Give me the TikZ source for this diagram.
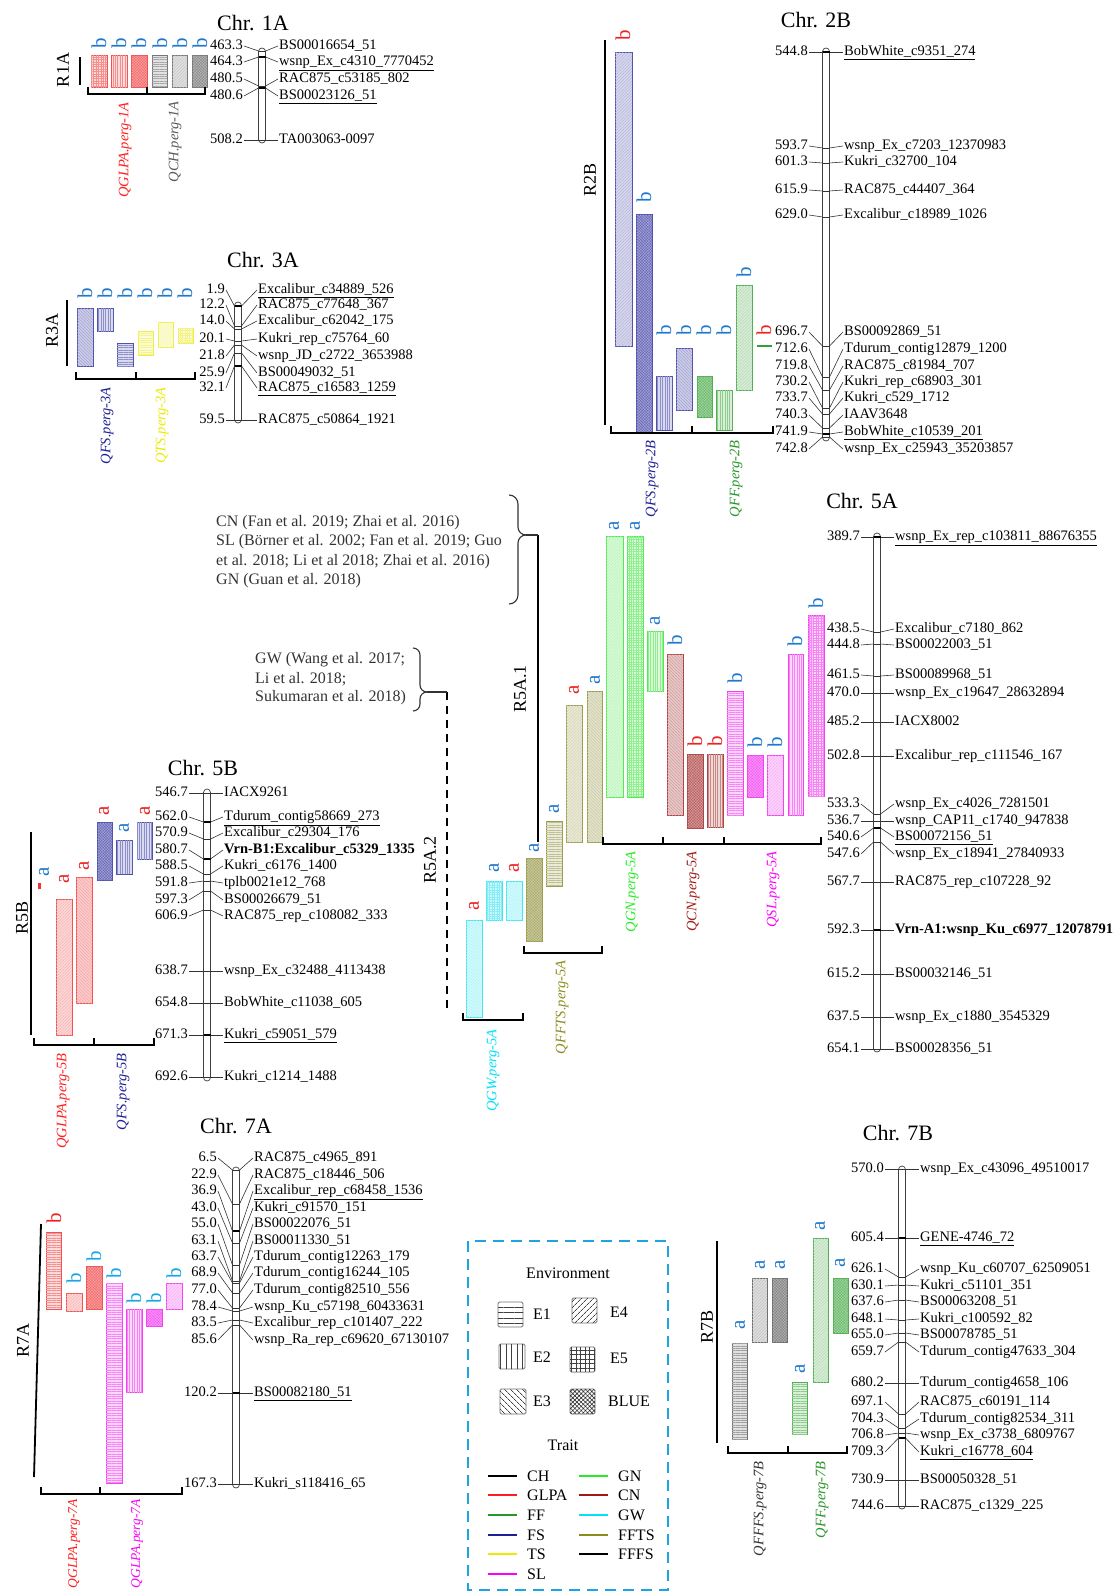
\documentclass[tikz,border=0pt]{standalone}
\usepackage{fontspec}
\setmainfont{Liberation Serif}
\usetikzlibrary{patterns.meta}
\definecolor{cGL}{RGB}{240,50,50}
\definecolor{cCH}{RGB}{95,95,95}
\definecolor{cFS}{RGB}{50,50,160}
\definecolor{cTS}{RGB}{235,235,40}
\definecolor{cFF}{RGB}{50,160,50}
\definecolor{cGN}{RGB}{50,230,50}
\definecolor{cCN}{RGB}{160,35,35}
\definecolor{cSL}{RGB}{240,30,240}
\definecolor{cGW}{RGB}{30,225,240}
\definecolor{cFT}{RGB}{140,140,50}
\definecolor{cFB}{RGB}{85,85,85}
\definecolor{lR}{RGB}{235,35,35}
\definecolor{lB}{RGB}{30,120,205}
\definecolor{lC}{RGB}{25,165,230}
\definecolor{legbox}{RGB}{30,165,225}
\definecolor{tGL}{RGB}{255,30,30}
\definecolor{tFS}{RGB}{30,30,150}
\definecolor{tTS}{RGB}{235,235,0}
\definecolor{tFF}{RGB}{40,150,40}
\definecolor{tGN}{RGB}{40,235,40}
\definecolor{tCN}{RGB}{160,25,25}
\definecolor{tSL}{RGB}{250,0,250}
\definecolor{tGW}{RGB}{0,225,250}
\definecolor{tFT}{RGB}{140,140,30}
\tikzset{
 num/.style={anchor=east, inner sep=1pt, text height=10pt, text depth=3pt, font=\fontsize{14.5}{16}\selectfont},
 mname/.style={anchor=west, inner sep=1pt, text height=10pt, text depth=3pt, font=\fontsize{14.5}{16}\selectfont},
 chrom/.style={draw=black!75, line width=0.7pt, fill=white, rounded corners=3.5pt},
 lead/.style={draw=black!80, line width=0.6pt},
 lthick/.style={draw=black, line width=1.6pt},
 ctitle/.style={font=\fontsize{22}{24}\selectfont},
 rlab/.style={rotate=90, font=\fontsize{18}{20}\selectfont},
 rline/.style={line width=1.8pt},
 brk/.style={line width=1.5pt},
 qlab/.style={rotate=90, anchor=east, inner sep=1pt, font=\fontsize{14.5}{16}\selectfont\itshape},
 blet/.style={rotate=90, inner sep=0pt, font=\fontsize{21}{22}\selectfont},
 qbar/.style={draw=#1!85, line width=0.7pt},
 eA/.style={fill=#1!18, postaction={pattern={Lines[angle=0,distance=2.4pt,line width=0.4pt]}, pattern color=#1!55}},
 eB/.style={fill=#1!18, postaction={pattern={Lines[angle=90,distance=2.4pt,line width=0.4pt]}, pattern color=#1!55}},
 eC/.style={fill=#1!25, postaction={pattern={Lines[angle=-45,distance=2.2pt,line width=0.35pt]}, pattern color=#1!50}},
 eD/.style={fill=#1!20, postaction={pattern={Lines[angle=45,distance=2.2pt,line width=0.35pt]}, pattern color=#1!40}},
 eE/.style={fill=#1!18, postaction={pattern={Hatch[angle=0,distance=2.4pt,line width=0.35pt]}, pattern color=#1!55}},
 eX/.style={fill=#1!45, postaction={pattern={Hatch[angle=45,distance=2pt,line width=0.35pt]}, pattern color=#1!75}},
 btxt/.style={anchor=west, inner sep=0pt, text=black!80, font=\fontsize{16}{18}\selectfont},
 brace/.style={draw=black!80, line width=1.1pt},
 sw/.style={draw=black!55, line width=0.8pt, rounded corners=1.5pt, fill=white},
 leg/.style={anchor=west, inner sep=0pt, font=\fontsize{16}{18}\selectfont},
 legline/.style={line width=2pt},
}
\newcommand\mkr[6]{%
 \node[num] (#1n) at (\XN,#2) {#4};
 \node[mname] (#1m) at (\XM,#2) {#5};
 \draw[lead] (#1n.east) -- (\CX-\HW,#3);
 \draw[#6] (\CX-\HW,#3) -- (\CX+\HW,#3);
 \draw[lead] (\CX+\HW,#3) -- (#1m.west);
}
\newcommand\bracketline[3]{\draw[brk] (#1,#3-7) -- (#1,#3) -- (#2,#3) -- (#2,#3-7);}
\newcommand\midtick[2]{\draw[brk] (#1,#2) -- (#1,#2-7);}
\begin{document}
\begin{tikzpicture}[x=1pt,y=-1pt]
\useasboundingbox[fill=white] (0,0) rectangle (1113,1593);

%%%%%%%%%%%%%%%% Chr 1A
\node[ctitle] (t1A) at (253,23) {Chr. 1A};
\def\CX{262}\def\HW{3.5}\def\XN{244}\def\XM{278}
\draw[chrom] (\CX-\HW,48) rectangle (\CX+\HW,143);
\mkr{a1}{46}{51}{463.3}{BS00016654\_51}{lead}
\mkr{a2}{62}{57}{464.3}{\underline{wsnp\_Ex\_c4310\_7770452}}{lthick}
\mkr{a3}{79}{86}{480.5}{RAC875\_c53185\_802}{lead}
\mkr{a4}{96}{88}{480.6}{\underline{BS00023126\_51}}{lthick}
\mkr{a5}{140}{140}{508.2}{TA003063-0097}{lead}
\draw[qbar=cGL, eE=cGL] (91,55) rectangle (107,87);
\draw[qbar=cGL, eB=cGL] (111,55) rectangle (127,87);
\draw[qbar=cGL, eX=cGL] (131,55) rectangle (147,87);
\draw[qbar=cCH, eA=cCH] (152,55) rectangle (167,87);
\draw[qbar=cCH, eD=cCH] (172,55) rectangle (187,87);
\draw[qbar=cCH, eX=cCH] (192,55) rectangle (207,87);
\foreach \x in {99,119,139,160,180,200} \node[blet, text=lB] at (\x,43) {b};
\node[rlab] (r1A) at (63,70) {R1A};
\draw[rline] (80,57) -- (80,85);
\bracketline{88}{205}{94}\midtick{147}{94}
\node[qlab, text=tGL] (q1a) at (125,101) {QGLPA.perg-1A};
\node[qlab, text=black!65] (q1b) at (175,100) {QCH.perg-1A};

%%%%%%%%%%%%%%%% Chr 3A
\node[ctitle] (t3A) at (263,260) {Chr. 3A};
\def\CX{238}\def\HW{3.5}\def\XN{226}\def\XM{257}
\draw[chrom] (\CX-\HW,302) rectangle (\CX+\HW,423);
\mkr{b1}{290}{306}{1.9}{\underline{Excalibur\_c34889\_526}}{lthick}
\mkr{b2}{305}{326}{12.2}{RAC875\_c77648\_367}{lead}
\mkr{b3}{321}{329}{14.0}{Excalibur\_c62042\_175}{lead}
\mkr{b4}{339}{341}{20.1}{Kukri\_rep\_c75764\_60}{lead}
\mkr{b5}{356}{345}{21.8}{wsnp\_JD\_c2722\_3653988}{lead}
\mkr{b6}{373}{353}{25.9}{BS00049032\_51}{lead}
\mkr{b7}{388}{366}{32.1}{\underline{RAC875\_c16583\_1259}}{lthick}
\mkr{b8}{420}{420}{59.5}{RAC875\_c50864\_1921}{lead}
\draw[qbar=cFS, eC=cFS] (77,308) rectangle (93,366);
\draw[qbar=cFS, eB=cFS] (97,308) rectangle (113,331);
\draw[qbar=cFS, eA=cFS] (117,343) rectangle (133,366);
\draw[qbar=cTS, eA=cTS] (138,331) rectangle (153,355);
\draw[qbar=cTS, eD=cTS] (158,322) rectangle (173,347);
\draw[qbar=cTS, eE=cTS] (178,328) rectangle (193,343);
\foreach \x in {85,105,125,145,165,185} \node[blet, text=lB] at (\x,293) {b};
\node[rlab] (r3A) at (52,330) {R3A};
\draw[rline] (67,300) -- (67,366);
\bracketline{76}{195}{379}\midtick{136}{379}
\node[qlab, text=tFS] (q3a) at (107,386) {QFS.perg-3A};
\node[qlab, text=tTS] (q3b) at (162,386) {QTS.perg-3A};

%%%%%%%%%%%%%%%% Chr 2B
\node[ctitle] (t2B) at (816,20) {Chr. 2B};
\def\CX{826}\def\HW{3.5}\def\XN{809}\def\XM{843}
\draw[chrom] (\CX-\HW,48) rectangle (\CX+\HW,441);
\mkr{c1}{52}{52}{544.8}{\underline{BobWhite\_c9351\_274}}{lthick}
\mkr{c2}{146}{148}{593.7}{wsnp\_Ex\_c7203\_12370983}{lead}
\mkr{c3}{162}{163}{601.3}{Kukri\_c32700\_104}{lead}
\mkr{c4}{190}{191}{615.9}{RAC875\_c44407\_364}{lead}
\mkr{c5}{215}{217}{629.0}{Excalibur\_c18989\_1026}{lead}
\mkr{c6}{332}{346}{696.7}{BS00092869\_51}{lead}
\mkr{c7}{349}{377}{712.6}{Tdurum\_contig12879\_1200}{lead}
\mkr{c8}{366}{390}{719.8}{RAC875\_c81984\_707}{lead}
\mkr{c9}{382}{408}{730.2}{Kukri\_rep\_c68903\_301}{lead}
\mkr{c10}{398}{414}{733.7}{Kukri\_c529\_1712}{lead}
\mkr{c11}{415}{428}{740.3}{IAAV3648}{lead}
\mkr{c12}{432}{434}{741.9}{\underline{BobWhite\_c10539\_201}}{lthick}
\mkr{c13}{449}{437}{742.8}{wsnp\_Ex\_c25943\_35203857}{lead}
\draw[qbar=cFS, eD=cFS] (615,52) rectangle (632,346);
\draw[qbar=cFS, eX=cFS] (636,214) rectangle (652,433);
\draw[qbar=cFS, eB=cFS] (656,376) rectangle (672,430);
\draw[qbar=cFS, eC=cFS] (676,348) rectangle (692,410);
\draw[qbar=cFF, eX=cFF] (697,376) rectangle (712,417);
\draw[qbar=cFF, eB=cFF] (716,390) rectangle (732,430);
\draw[qbar=cFF, eD=cFF] (736,285) rectangle (752,390);
\draw[cFF, line width=2pt] (757,346) -- (772,346);
\node[blet, text=lR] at (623,35) {b};
\node[blet, text=lB] at (644,197) {b};
\foreach \x in {664,684,704,724} \node[blet, text=lB] at (\x,330) {b};
\node[blet, text=lB] at (744,272) {b};
\node[blet, text=lR] at (764,330) {b};
\node[rlab] (r2B) at (590,180) {R2B};
\draw[rline] (605,40) -- (605,425);
\bracketline{611}{773}{433}\midtick{692}{433}
\node[qlab, text=tFS] (q2a) at (652,439) {QFS.perg-2B};
\node[qlab, text=tFF] (q2b) at (736,439) {QFF.perg-2B};

%%%%%%%%%%%%%%%% Chr 5A
\node[ctitle] (t5A) at (862,501) {Chr. 5A};
\def\CX{877}\def\HW{3.5}\def\XN{861}\def\XM{894}
\draw[chrom] (\CX-\HW,533) rectangle (\CX+\HW,1052);
\mkr{f1}{537}{537}{389.7}{\underline{wsnp\_Ex\_rep\_c103811\_88676355}}{lthick}
\mkr{f2}{629}{632}{438.5}{Excalibur\_c7180\_862}{lead}
\mkr{f3}{645}{644}{444.8}{BS00022003\_51}{lead}
\mkr{f4}{675}{676}{461.5}{BS00089968\_51}{lead}
\mkr{f5}{693}{693}{470.0}{wsnp\_Ex\_c19647\_28632894}{lead}
\mkr{f6}{722}{722}{485.2}{IACX8002}{lead}
\mkr{f7}{756}{756}{502.8}{Excalibur\_rep\_c111546\_167}{lead}
\mkr{f8}{804}{814}{533.3}{wsnp\_Ex\_c4026\_7281501}{lead}
\mkr{f9}{821}{821}{536.7}{wsnp\_CAP11\_c1740\_947838}{lead}
\mkr{f10}{837}{828}{540.6}{\underline{BS00072156\_51}}{lthick}
\mkr{f11}{854}{842}{547.6}{wsnp\_Ex\_c18941\_27840933}{lead}
\mkr{f12}{882}{882}{567.7}{RAC875\_rep\_c107228\_92}{lead}
\mkr{f13}{930}{930}{592.3}{\textbf{Vrn-A1:wsnp\_Ku\_c6977\_12078791}}{lthick}
\mkr{f14}{974}{974}{615.2}{BS00032146\_51}{lead}
\mkr{f15}{1017}{1017}{637.5}{wsnp\_Ex\_c1880\_3545329}{lead}
\mkr{f16}{1049}{1049}{654.1}{BS00028356\_51}{lead}
% GW
\draw[qbar=cGW, eD=cGW] (466,920) rectangle (482,1017);
\draw[qbar=cGW, eE=cGW] (486,881) rectangle (502,920);
\draw[qbar=cGW, eD=cGW] (506,881) rectangle (522,920);
% FFTS
\draw[qbar=cFT, eX=cFT] (526,858) rectangle (542,941);
\draw[qbar=cFT, eA=cFT] (546,821) rectangle (562,886);
\draw[qbar=cFT, eD=cFT] (566,705) rectangle (582,842);
\draw[qbar=cFT, eC=cFT] (587,691) rectangle (602,842);
% GN
\draw[qbar=cGN, eD=cGN] (606,536) rectangle (623,797);
\draw[qbar=cGN, eE=cGN] (627,536) rectangle (643,797);
\draw[qbar=cGN, eB=cGN] (647,631) rectangle (663,691);
% CN
\draw[qbar=cCN, eC=cCN] (667,654) rectangle (683,815);
\draw[qbar=cCN, eX=cCN] (687,754) rectangle (703,828);
\draw[qbar=cCN, eB=cCN] (707,754) rectangle (723,827);
% SL
\draw[qbar=cSL, eA=cSL] (727,691) rectangle (743,815);
\draw[qbar=cSL, eX=cSL] (747,755) rectangle (763,797);
\draw[qbar=cSL, eD=cSL] (767,755) rectangle (783,815);
\draw[qbar=cSL, eB=cSL] (788,654) rectangle (803,815);
\draw[qbar=cSL, eE=cSL] (808,615) rectangle (824,796);
\node[blet, text=lR] at (474,906) {a};
\node[blet, text=lB] at (494,868) {a};
\node[blet, text=lR] at (514,868) {a};
\node[blet, text=lB] at (534,848) {a};
\node[blet, text=lB] at (554,809) {a};
\node[blet, text=lR] at (574,690) {a};
\node[blet, text=lB] at (595,680) {a};
\node[blet, text=lB] at (614,526) {a};
\node[blet, text=lB] at (635,526) {a};
\node[blet, text=lB] at (655,621) {a};
\node[blet, text=lB] at (675,640) {b};
\node[blet, text=lR] at (695,741) {b};
\node[blet, text=lR] at (715,741) {b};
\node[blet, text=lB] at (735,678) {b};
\node[blet, text=lB] at (755,742) {b};
\node[blet, text=lB] at (775,742) {b};
\node[blet, text=lB] at (795,641) {b};
\node[blet, text=lB] at (816,603) {b};
\bracketline{603}{821}{844}\midtick{663}{844}\midtick{724}{844}
\bracketline{524}{602}{953}
\bracketline{463}{523}{1020}
\node[qlab, text=tGW] (q5a) at (493,1028) {QGW.perg-5A};
\node[qlab, text=tFT] (q5b) at (562,959) {QFFTS.perg-5A};
\node[qlab, text=tGN] (q5c) at (632,850) {QGN.perg-5A};
\node[qlab, text=tCN] (q5d) at (693,850) {QCN.perg-5A};
\node[qlab, text=tSL] (q5e) at (773,850) {QSL.perg-5A};
\node[rlab] (r5a1) at (520,689) {R5A.1};
\coordinate (r51top) at (538,535);
\coordinate (r51bot) at (538,842);
\draw[rline] (r51top) -- (r51bot);
\node[rlab] (r5a2) at (430,860) {R5A.2};
\coordinate (r52top) at (447,692);
\coordinate (r52bot) at (447,1009);
\draw[rline, dash pattern=on 8pt off 6pt] (r52top) -- (r52bot);
% braces and citations
\draw[brace] (509,495) to[out=0,in=90] (518,504) -- (518,527) to[out=-90,in=180] (526,535);
\draw[brace] (509,604) to[out=0,in=-90] (518,595) -- (518,543) to[out=90,in=180] (526,535);
\draw[brace] (526,535) -- (r51top);
\draw[brace] (413,648) to[out=0,in=90] (420,655) -- (420,685) to[out=-90,in=180] (427,692);
\draw[brace] (413,711) to[out=0,in=-90] (420,704) -- (420,699) to[out=90,in=180] (427,692);
\draw[brace] (427,692) -- (r52top);
\node[btxt] (c1) at (216,523) {CN (Fan et al. 2019; Zhai et al. 2016)};
\node[btxt] (c2) at (216,542) {SL (Börner et al. 2002; Fan et al. 2019; Guo};
\node[btxt] (c3) at (216,562) {et al. 2018; Li et al 2018; Zhai et al. 2016)};
\node[btxt] (c4) at (216,581) {GN (Guan et al. 2018)};
\node[btxt] (g1) at (255,660) {GW (Wang et al. 2017;};
\node[btxt] (g2) at (255,679) {Li et al. 2018;};
\node[btxt] (g3) at (255,698) {Sukumaran et al. 2018)};

%%%%%%%%%%%%%%%% Chr 5B
\node[ctitle] (t5B) at (203,768) {Chr. 5B};
\def\CX{207}\def\HW{3.5}\def\XN{189}\def\XM{223}
\draw[chrom] (\CX-\HW,789) rectangle (\CX+\HW,1081);
\mkr{h1}{793}{793}{546.7}{IACX9261}{lead}
\mkr{h2}{817}{822}{562.0}{\underline{Tdurum\_contig58669\_273}}{lthick}
\mkr{h3}{833}{839}{570.9}{Excalibur\_c29304\_176}{lead}
\mkr{h4}{850}{859}{580.7}{\textbf{Vrn-B1:Excalibur\_c5329\_1335}}{lthick}
\mkr{h5}{866}{874}{588.5}{Kukri\_c6176\_1400}{lead}
\mkr{h6}{883}{881}{591.8}{tplb0021e12\_768}{lead}
\mkr{h7}{900}{891}{597.3}{BS00026679\_51}{lead}
\mkr{h8}{916}{910}{606.9}{RAC875\_rep\_c108082\_333}{lead}
\mkr{h9}{971}{971}{638.7}{wsnp\_Ex\_c32488\_4113438}{lead}
\mkr{h10}{1003}{1003}{654.8}{BobWhite\_c11038\_605}{lead}
\mkr{h11}{1035}{1035}{671.3}{\underline{Kukri\_c59051\_579}}{lthick}
\mkr{h12}{1077}{1077}{692.6}{Kukri\_c1214\_1488}{lead}
\fill[cGL] (38,883) rectangle (41,889);
\draw[qbar=cGL, eD=cGL] (56,899) rectangle (72,1035);
\draw[qbar=cGL, eC=cGL] (76,877) rectangle (92,1003);
\draw[qbar=cFS, eX=cFS] (97,822) rectangle (112,880);
\draw[qbar=cFS, eB=cFS] (116,840) rectangle (132,874);
\draw[qbar=cFS, eB=cFS] (137,822) rectangle (152,859);
\node[blet, text=lB] at (44,872) {a};
\node[blet, text=lR] at (64,879) {a};
\node[blet, text=lR] at (84,866) {a};
\node[blet, text=lR] at (104,811) {a};
\node[blet, text=lB] at (124,828) {a};
\node[blet, text=lR] at (145,811) {a};
\node[rlab] (r5B) at (22,918) {R5B};
\draw[rline] (31,832) -- (31,1035);
\bracketline{34}{154}{1045}\midtick{94}{1045}
\node[qlab, text=tGL] (q5f) at (63,1052) {QGLPA.perg-5B};
\node[qlab, text=tFS] (q5g) at (123,1052) {QFS.perg-5B};

%%%%%%%%%%%%%%%% Chr 7A
\node[ctitle] (t7A) at (236,1126) {Chr. 7A};
\def\CX{236}\def\HW{3.5}\def\XN{218}\def\XM{253}
\draw[chrom] (\CX-\HW,1167) rectangle (\CX+\HW,1488);
\mkr{k1}{1158}{1170}{6.5}{RAC875\_c4965\_891}{lead}
\mkr{k2}{1175}{1204}{22.9}{RAC875\_c18446\_506}{lead}
\mkr{k3}{1191}{1231}{36.9}{\underline{Excalibur\_rep\_c68458\_1536}}{lthick}
\mkr{k4}{1208}{1243}{43.0}{Kukri\_c91570\_151}{lead}
\mkr{k5}{1224}{1265}{55.0}{BS00022076\_51}{lead}
\mkr{k6}{1241}{1281}{63.1}{BS00011330\_51}{lead}
\mkr{k7}{1257}{1283}{63.7}{Tdurum\_contig12263\_179}{lead}
\mkr{k8}{1273}{1293}{68.9}{Tdurum\_contig16244\_105}{lead}
\mkr{k9}{1290}{1308}{77.0}{Tdurum\_contig82510\_556}{lead}
\mkr{k10}{1307}{1311}{78.4}{wsnp\_Ku\_c57198\_60433631}{lead}
\mkr{k11}{1323}{1320}{83.5}{Excalibur\_rep\_c101407\_222}{lead}
\mkr{k12}{1340}{1325}{85.6}{wsnp\_Ra\_rep\_c69620\_67130107}{lead}
\mkr{k13}{1393}{1393}{120.2}{\underline{BS00082180\_51}}{lthick}
\mkr{k14}{1484}{1484}{167.3}{Kukri\_s118416\_65}{lead}
\draw[qbar=cGL, eA=cGL] (46,1232) rectangle (61,1309);
\draw[qbar=cGL, eD=cGL] (66,1293) rectangle (82,1311);
\draw[qbar=cGL, eX=cGL] (86,1266) rectangle (102,1309);
\draw[qbar=cSL, eA=cSL] (106,1283) rectangle (122,1483);
\draw[qbar=cSL, eB=cSL] (126,1309) rectangle (142,1392);
\draw[qbar=cSL, eX=cSL] (146,1309) rectangle (162,1326);
\draw[qbar=cSL, eD=cSL] (166,1283) rectangle (182,1309);
\node[blet, text=lR] at (54,1218) {b};
\node[blet, text=lC] at (74,1278) {b};
\node[blet, text=lC] at (94,1256) {b};
\node[blet, text=lC] at (114,1273) {b};
\node[blet, text=lC] at (134,1298) {b};
\node[blet, text=lC] at (154,1298) {b};
\node[blet, text=lC] at (174,1273) {b};
\node[rlab] (r7A) at (23,1340) {R7A};
\draw[rline] (41,1224) -- (34,1477);
\bracketline{41}{182}{1494}\midtick{100}{1494}
\node[qlab, text=tGL, font=\fontsize{13.5}{15}\selectfont\itshape] (q7a) at (74,1498) {QGLPA.perg-7A};
\node[qlab, text=tSL, font=\fontsize{13.5}{15}\selectfont\itshape] (q7b) at (137,1498) {QGLPA.perg-7A};

%%%%%%%%%%%%%%%% Chr 7B
\node[ctitle] (t7B) at (898,1133) {Chr. 7B};
\def\CX{902}\def\HW{3.5}\def\XN{885}\def\XM{919}
\draw[chrom] (\CX-\HW,1166) rectangle (\CX+\HW,1509);
\mkr{s1}{1169}{1169}{570.0}{wsnp\_Ex\_c43096\_49510017}{lead}
\mkr{s2}{1238}{1238}{605.4}{\underline{GENE-4746\_72}}{lthick}
\mkr{s3}{1269}{1277}{626.1}{wsnp\_Ku\_c60707\_62509051}{lead}
\mkr{s4}{1286}{1285}{630.1}{Kukri\_c51101\_351}{lead}
\mkr{s5}{1302}{1300}{637.6}{BS00063208\_51}{lead}
\mkr{s6}{1319}{1320}{648.1}{Kukri\_c100592\_82}{lead}
\mkr{s7}{1335}{1333}{655.0}{BS00078785\_51}{lead}
\mkr{s8}{1352}{1342}{659.7}{Tdurum\_contig47633\_304}{lead}
\mkr{s9}{1383}{1383}{680.2}{Tdurum\_contig4658\_106}{lead}
\mkr{s10}{1402}{1414}{697.1}{RAC875\_c60191\_114}{lead}
\mkr{s11}{1419}{1428}{704.3}{Tdurum\_contig82534\_311}{lead}
\mkr{s12}{1435}{1433}{706.8}{wsnp\_Ex\_c3738\_6809767}{lead}
\mkr{s13}{1452}{1438}{709.3}{\underline{Kukri\_c16778\_604}}{lthick}
\mkr{s14}{1480}{1480}{730.9}{BS00050328\_51}{lead}
\mkr{s15}{1506}{1506}{744.6}{RAC875\_c1329\_225}{lead}
\draw[qbar=cFB, eA=cFB] (732,1343) rectangle (747,1439);
\draw[qbar=cFB, eD=cFB] (752,1278) rectangle (767,1342);
\draw[qbar=cFB, eX=cFB] (772,1278) rectangle (787,1342);
\draw[qbar=cFF, eA=cFF] (792,1382) rectangle (807,1434);
\draw[qbar=cFF, eD=cFF] (813,1238) rectangle (828,1382);
\draw[qbar=cFF, eX=cFF] (833,1278) rectangle (848,1333);
\node[blet, text=lB] at (740,1325) {a};
\node[blet, text=lB] at (760,1265) {a};
\node[blet, text=lB] at (780,1265) {a};
\node[blet, text=lB] at (800,1369) {a};
\node[blet, text=lB] at (820,1226) {a};
\node[blet, text=lB] at (840,1263) {a};
\node[rlab] (r7B) at (707,1327) {R7B};
\draw[rline] (717,1241) -- (717,1443);
\bracketline{728}{847}{1453}\midtick{788}{1453}
\node[qlab, text=black!80] (q7c) at (760,1460) {QFFFS.perg-7B};
\node[qlab, text=tFF] (q7d) at (822,1460) {QFF.perg-7B};

%%%%%%%%%%%%%%%% Legend
\draw[legbox, line width=2.8pt, dash pattern=on 11pt off 7pt] (468,1241) rectangle (668,1590);
\node[font=\fontsize{16}{18}\selectfont] (envt) at (568,1273) {Environment};
\draw[sw, postaction={pattern={Lines[angle=0,distance=5.5pt,line width=0.8pt]}, pattern color=black!75}] (498,1302) rectangle (523,1327);
\node[leg] (lE1) at (533,1314) {E1};
\draw[sw, postaction={pattern={Lines[angle=45,distance=4pt,line width=0.7pt]}, pattern color=black!75}] (572,1298) rectangle (597,1323);
\node[leg] (lE4) at (610,1312) {E4};
\draw[sw, postaction={pattern={Lines[angle=90,distance=5.5pt,line width=0.8pt]}, pattern color=black!75}] (499,1344) rectangle (525,1369);
\node[leg] (lE2) at (533,1357) {E2};
\draw[sw, postaction={pattern={Hatch[angle=0,distance=4.5pt,line width=0.7pt]}, pattern color=black!75}] (570,1347) rectangle (595,1372);
\node[leg] (lE5) at (610,1358) {E5};
\draw[sw, postaction={pattern={Lines[angle=-45,distance=4pt,line width=0.7pt]}, pattern color=black!75}] (500,1389) rectangle (526,1414);
\node[leg] (lE3) at (533,1401) {E3};
\draw[sw, postaction={pattern={Hatch[angle=45,distance=3pt,line width=0.6pt]}, pattern color=black!80}] (570,1389) rectangle (595,1414);
\node[leg] (lBL) at (608,1401) {BLUE};
\node[font=\fontsize{16}{18}\selectfont] (trt) at (563,1445) {Trait};
\draw[legline, black] (488,1476) -- (517,1476); \node[leg] (lCH) at (527,1476) {CH};
\draw[legline, tGL] (488,1495) -- (517,1495); \node[leg] (lGL) at (527,1495) {GLPA};
\draw[legline, tFF] (488,1515) -- (517,1515); \node[leg] (lFF) at (527,1515) {FF};
\draw[legline, tFS] (488,1535) -- (517,1535); \node[leg] (lFS) at (527,1535) {FS};
\draw[legline, tTS] (488,1554) -- (517,1554); \node[leg] (lTS) at (527,1554) {TS};
\draw[legline, tSL] (488,1574) -- (517,1574); \node[leg] (lSL) at (527,1574) {SL};
\draw[legline, tGN] (579,1476) -- (608,1476); \node[leg] (lGN) at (618,1476) {GN};
\draw[legline, tCN] (579,1495) -- (608,1495); \node[leg] (lCN) at (618,1495) {CN};
\draw[legline, tGW] (579,1515) -- (608,1515); \node[leg] (lGW) at (618,1515) {GW};
\draw[legline, tFT] (579,1535) -- (608,1535); \node[leg] (lFT) at (618,1535) {FFTS};
\draw[legline, black] (579,1554) -- (608,1554); \node[leg] (lFB) at (618,1554) {FFFS};
\end{tikzpicture}
\end{document}
